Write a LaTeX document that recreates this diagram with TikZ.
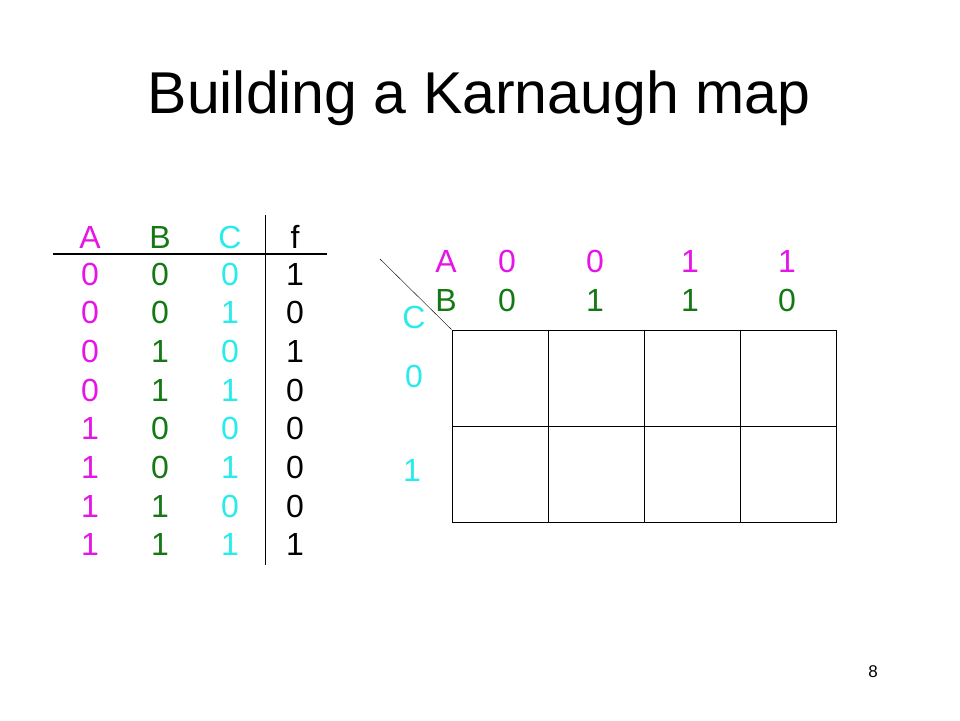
\documentclass[tikz,border=0pt]{standalone}
\usepackage{fontspec}
\setmainfont{Liberation Sans}
\usepackage{tikz}
\usetikzlibrary{ positioning, % For easy node-relative placements
               }
\definecolor{colA}{RGB}{230,20,230}
\definecolor{colB}{RGB}{20,120,20}
\definecolor{colC}{RGB}{40,235,235}

\begin{document}
\begin{tikzpicture}[x=1pt, y=-1pt,
    bit/.style={inner sep=0pt, font=\fontsize{32}{38}\selectfont},
    cell/.style={draw, line width=0.8pt, minimum width=96pt, minimum height=96pt, inner sep=0pt}]
  \useasboundingbox (0,0) rectangle (960,720);
  \node (title) at (479,98) {\fontsize{59}{70}\selectfont Building a Karnaugh map};
  \node (page) at (873,672) {\fontsize{17}{20}\selectfont 8};

  % truth table
  \node[bit, colA] (hA) at (90,237) {A};
  \node[bit, colB] (hB) at (160,237) {B};
  \node[bit, colC] (hC) at (230,237) {C};
  \node[bit] (hf) at (295,237) {f};
  \foreach \a/\b/\c/\f [count=\i from 0] in {0/0/0/1, 0/0/1/0, 0/1/0/1, 0/1/1/0,
                                             1/0/0/0, 1/0/1/0, 1/1/0/0, 1/1/1/1} {
    \node[bit, colA] (a\i) at (90,274+38.7*\i) {\a};
    \node[bit, colB] (b\i) at (160,274+38.7*\i) {\b};
    \node[bit, colC] (c\i) at (230,274+38.7*\i) {\c};
    \node[bit] (f\i) at (295,274+38.7*\i) {\f};
  }
  \coordinate (hl_l) at (53,254);
  \coordinate (hl_r) at (327,254);
  \coordinate (vl_t) at (265,215);
  \coordinate (vl_b) at (265,565);
  \draw[line width=1.3pt] (hl_l) -- (hl_r);
  \draw[line width=0.8pt] (vl_t) -- (vl_b);

  % the map
  \node[cell] (m00) at (500,378) {};
  \node[cell] (m01) at (596,378) {};
  \node[cell] (m11) at (692,378) {};
  \node[cell] (m10) at (788,378) {};
  \node[cell] (n00) at (500,474) {};
  \node[cell] (n01) at (596,474) {};
  \node[cell] (n11) at (692,474) {};
  \node[cell] (n10) at (788,474) {};
  \coordinate (corner) at (380,259);
  \draw[line width=0.4pt] (corner) -- (m00.north west);

  \node[bit, colA] (lA) at (446,261) {A};
  \node[bit, colB] (lB) at (446,300) {B};
  \node[bit, colC] (lC) at (414,317) {C};
  \foreach \a/\b/\x [count=\j] in {0/0/507, 0/1/595, 1/1/690, 1/0/787} {
    \node[bit, colA] (ka\j) at (\x,261) {\a};
    \node[bit, colB] (kb\j) at (\x,300) {\b};
  }
  \node[bit, colC] (kc0) at (414,376) {0};
  \node[bit, colC] (kc1) at (412,470) {1};
\end{tikzpicture}
\end{document}
